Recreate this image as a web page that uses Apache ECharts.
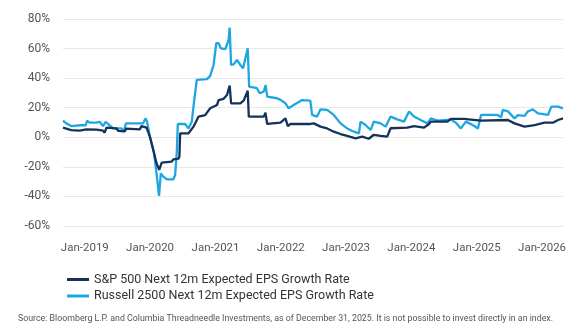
<!DOCTYPE html>
<html>
<head>
<meta charset="utf-8">
<script src="https://cdn.jsdelivr.net/npm/echarts@6/dist/echarts.min.js"></script>
<style>
html,body{margin:0;padding:0;background:#fff;}
#chart{width:576px;height:329px;}
</style>
</head>
<body>
<div id="chart"></div>
<script>
// S&P 500 Next 12m Expected EPS Growth Rate (%)
const spDates = ['2018-09-01','2018-10-17','2018-12-03','2019-01-10','2019-03-07','2019-04-13','2019-04-22','2019-05-02','2019-06-27','2019-07-06','2019-08-13','2019-08-19','2019-11-05','2019-11-14','2019-12-12','2019-12-31','2020-01-19','2020-02-06','2020-02-21','2020-03-06','2020-05-01','2020-05-10','2020-06-08','2020-06-13','2020-06-17','2020-08-03','2020-08-12','2020-08-31','2020-09-28','2020-11-04','2020-11-14','2020-12-02','2021-01-09','2021-01-18','2021-02-15','2021-03-06','2021-03-21','2021-03-29','2021-05-20','2021-06-08','2021-06-30','2021-07-06','2021-09-28','2021-10-07','2021-10-17','2021-12-30','2022-01-27','2022-02-09','2022-02-24','2022-06-15','2022-07-04','2022-08-11','2022-09-17','2022-10-24','2022-12-01','2023-01-07','2023-02-23','2023-04-01','2023-05-08','2023-06-05','2023-07-13','2023-08-19','2023-09-07','2023-12-09','2024-01-16','2024-03-12','2024-04-09','2024-04-19','2024-07-21','2024-08-09','2024-10-23','2024-11-30','2025-01-25','2025-06-24','2025-07-31','2025-09-25','2025-11-20','2026-01-15','2026-03-03','2026-03-31','2026-04-28'];
const spValues = [6.5,4.8,4.5,5.4,5.2,4.5,3.1,6.5,6.0,4.3,4.0,5.8,5.4,7.6,6.5,0.4,-8.6,-17.6,-22,-17.2,-16.5,-15,-14.5,-13,2.7,2.7,3.8,7.2,14,15,14,19.6,21.8,25.2,26,28.6,34.9,23,23,25,31.5,14,14,16.6,9,9.9,12.8,7.6,9,9,9.4,7.2,6,3.8,2.2,0.9,-0.7,0.4,-1,1.7,0.9,0.4,6.1,6.5,7.6,6.5,9,10.6,10.6,12.4,12.4,12,11.3,11.7,9.4,7.2,8.3,9.9,9.9,11.7,12.8];

// Russell 2500 Next 12m Expected EPS Growth Rate (%)
const ruDates = ['2018-09-01','2018-09-19','2018-10-17','2018-12-22','2019-01-06','2019-01-13','2019-01-28','2019-03-07','2019-03-25','2019-04-13','2019-04-28','2019-05-11','2019-06-08','2019-07-25','2019-08-07','2019-08-19','2019-11-23','2019-12-06','2019-12-15','2019-12-31','2020-01-23','2020-02-06','2020-02-20','2020-03-01','2020-03-15','2020-04-03','2020-05-10','2020-05-20','2020-05-29','2020-06-04','2020-07-15','2020-08-03','2020-08-21','2020-09-03','2020-09-18','2020-11-14','2020-12-02','2020-12-21','2021-01-05','2021-01-18','2021-01-31','2021-02-25','2021-03-15','2021-03-21','2021-03-29','2021-04-12','2021-05-01','2021-05-20','2021-06-04','2021-06-17','2021-06-30','2021-07-08','2021-08-21','2021-09-05','2021-09-28','2021-10-08','2021-10-17','2021-12-11','2021-12-30','2022-01-27','2022-02-14','2022-03-14','2022-04-30','2022-06-15','2022-06-25','2022-07-23','2022-08-11','2022-09-17','2022-10-24','2022-12-01','2023-01-07','2023-02-14','2023-03-14','2023-03-23','2023-04-20','2023-05-18','2023-06-05','2023-07-13','2023-08-10','2023-09-07','2023-10-14','2023-11-21','2023-12-19','2024-01-16','2024-02-22','2024-03-31','2024-04-19','2024-05-26','2024-08-09','2024-09-06','2024-10-04','2024-11-01','2024-12-09','2025-01-07','2025-01-25','2025-04-28','2025-05-17','2025-05-26','2025-06-24','2025-07-31','2025-08-19','2025-09-25','2025-10-13','2025-11-10','2025-12-09','2026-02-03','2026-02-22','2026-03-31','2026-04-28'];
const ruValues = [11.2,9.4,7.6,8.3,8.0,11.2,9.9,9.9,10.5,7.6,10.5,9,6,6,3.8,9.4,9.4,12.8,10.5,0.4,-10.8,-24.4,-39.7,-24.4,-26.6,-28.4,-28.4,-25.5,-10.8,9,9,6,10.5,24.1,38.8,39.3,41.5,48.9,63.6,63.6,60.2,59.6,65.8,74.1,48.9,49.3,52.3,48.9,46.7,53.5,60.2,34.2,33.2,29.8,31,35.4,27.5,26.4,25.3,23,19.6,21.8,25.2,24.8,15.1,14,18.9,18.5,15.1,9.4,6,3.8,2.7,10.6,8.3,4.9,10.6,9.4,7.2,14,12.1,10.6,17.4,14,11.7,9.4,12.8,11.3,12,9.9,6,10.6,8.3,6,15.1,15.1,13.5,18.5,17.5,12.8,15,14.5,17.4,18.9,16.2,15.1,20.7,20.7,19.6];

const yearTicks = [2019,2020,2021,2022,2023,2024,2025,2026];
const xStart = '2018-09-01';
const xEnd = '2026-04-28';
const seriesNames = ['S&P 500 Next 12m Expected EPS Growth Rate','Russell 2500 Next 12m Expected EPS Growth Rate'];
const sourceText = 'Source: Bloomberg L.P. and Columbia Threadneedle Investments, as of December 31, 2025. It is not possible to invest directly in an index.';

const ts = d => Date.parse(d + 'T00:00:00Z');
const zip = (d, v) => d.map((x, i) => [ts(x), v[i]]);
const chart = echarts.init(document.getElementById('chart'), null, {renderer: 'canvas'});
const font = 'Roboto, "Noto Sans", sans-serif';
chart.setOption({
  animation: false,
  backgroundColor: '#fff',
  textStyle: {fontFamily: font},
  grid: {left: 63, right: 13, top: 19, bottom: 103, containLabel: false},
  xAxis: {
    type: 'value',
    min: ts(xStart),
    max: ts(xEnd),
    axisLine: {show: false},
    axisTick: {show: false},
    splitLine: {show: false},
    axisLabel: {
      customValues: yearTicks.map(y => ts(y + '-01-01')),
      formatter: v => 'Jan-' + new Date(v).getUTCFullYear(),
      color: '#555',
      fontSize: 11.5,
      margin: 16,
      fontFamily: font
    }
  },
  yAxis: {
    type: 'value',
    min: -60, max: 80, interval: 20,
    axisLine: {show: false},
    axisTick: {show: false},
    splitLine: {lineStyle: {color: '#e8e8e8', width: 1}},
    axisLabel: {formatter: '{value}%', color: '#555', fontSize: 12, margin: 13, fontFamily: font}
  },
  legend: {
    orient: 'vertical',
    left: 62, top: 268,
    itemWidth: 22, itemHeight: 3, itemGap: 3.5,
    icon: 'rect',
    textStyle: {fontSize: 12.5, color: '#333', fontFamily: font},
    data: seriesNames
  },
  graphic: [{
    type: 'text', left: 18, top: 314,
    style: {text: sourceText, fontSize: 8.8, fill: '#555', fontFamily: font}
  }],
  series: [
    {name: seriesNames[0], type: 'line', data: zip(spDates, spValues), showSymbol: false, symbol: 'none',
     lineStyle: {color: '#15335a', width: 2.3}, itemStyle: {color: '#15335a'}, z: 3},
    {name: seriesNames[1], type: 'line', data: zip(ruDates, ruValues), showSymbol: false, symbol: 'none',
     lineStyle: {color: '#1ea6e0', width: 2.3}, itemStyle: {color: '#1ea6e0'}, z: 2}
  ]
});
</script>
</body>
</html>
